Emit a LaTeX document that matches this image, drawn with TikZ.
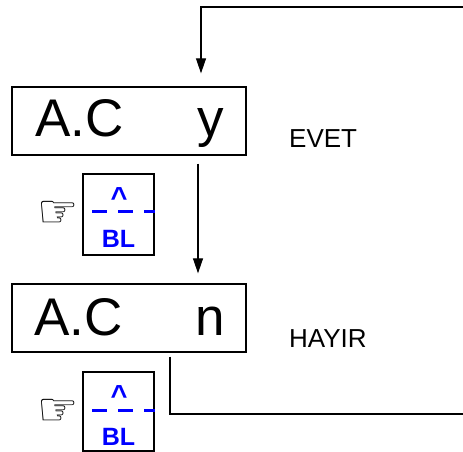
\documentclass[tikz,border=0pt]{standalone}
\usepackage{fontspec}
\setmainfont{Liberation Sans}
\newfontfamily\symfont{DejaVu Sans}
\usetikzlibrary{arrows.meta}
\begin{document}
\begin{tikzpicture}[x=1bp,y=-1bp,
  dispbox/.style={draw,line width=1.3bp,inner sep=0pt},
  keybox/.style={draw,line width=1.3bp,inner sep=0pt},
  bigtxt/.style={inner sep=0pt,font=\fontsize{53bp}{60bp}\selectfont},
  lbltxt/.style={inner sep=0pt,anchor=base west,font=\fontsize{26bp}{30bp}\selectfont},
  keytxt/.style={inner sep=0pt,anchor=base,text=blue,font=\bfseries\fontsize{25bp}{30bp}\selectfont},
  hand/.style={inner sep=0pt,font=\symfont\fontsize{46bp}{50bp}\selectfont},
  conn/.style={line width=1.1bp},
  arr/.style={conn,-{Triangle[length=15bp,width=10bp]}}]
\useasboundingbox (0,0) rectangle (463,452);
% display boxes
\node[dispbox,minimum width=234bp,minimum height=68bp] (box1) at (129,121) {};
\node[dispbox,minimum width=234bp,minimum height=68bp] (box2) at (129,318) {};
\node[bigtxt,anchor=base west] (ac1) at (35,137) {A.C};
\node[bigtxt,anchor=base] (y1) at (210.5,137) {y};
\node[bigtxt,anchor=base west] (ac2) at (34,335) {A.C};
\node[bigtxt,anchor=base] (n2) at (210.5,335) {n};
\node[lbltxt] (evet) at (289,148) {EVET};
\node[lbltxt] (hayir) at (289,347) {HAYIR};
% key boxes
\node[keybox,minimum width=71bp,minimum height=81bp] (k1) at (118.5,214.5) {};
\node[keybox,minimum width=71bp,minimum height=79bp] (k2) at (118.5,411.5) {};
\node[keytxt,font=\bfseries\fontsize{29bp}{30bp}\selectfont] (c1) at (119,207.5) {\^{}};
\node[keytxt] (bl1) at (118.5,247) {BL};
\node[keytxt,font=\bfseries\fontsize{29bp}{30bp}\selectfont] (c2) at (119,405.5) {\^{}};
\node[keytxt] (bl2) at (118.5,445) {BL};
\coordinate (d1s) at (92,212);
\coordinate (d2s) at (92,410);
\draw[blue,line width=3bp,dash pattern=on 15bp off 11bp] (d1s) -- (d1s -| k1.east);
\draw[blue,line width=3bp,dash pattern=on 15bp off 11bp] (d2s) -- (d2s -| k2.east);
\node[hand] (h1) at (58,214) {☞};
\node[hand] (h2) at (58,412) {☞};
% connectors
\coordinate (topin) at (463,7);
\coordinate (bendtop) at (201,7);
\coordinate (botout) at (463,414);
\coordinate (bendbot) at (170,414);
\draw[arr,shorten >=13bp] (topin) -- (bendtop) -- (bendtop |- box1.north);
\draw[arr,shorten <=8bp,shorten >=10bp] (box1.south -| 198,0) -- (box2.north -| 198,0);
\draw[conn,shorten <=4bp] (box2.south -| bendbot) -- (bendbot) -- (botout);
\end{tikzpicture}
\end{document}
